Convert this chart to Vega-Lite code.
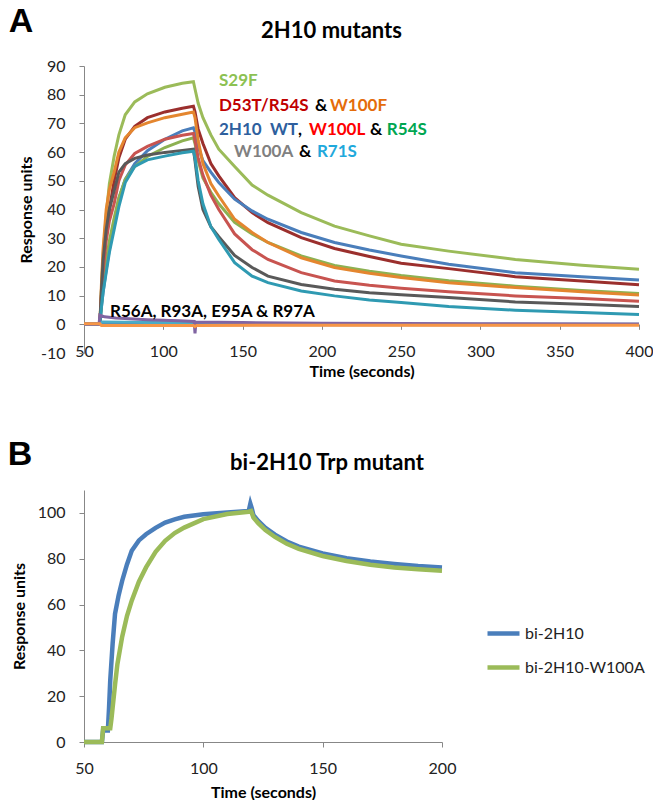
{
  "$schema": "https://vega.github.io/schema/vega-lite/v6.json",
  "background": "white",
  "padding": {"left": 7, "top": 5, "right": 0, "bottom": 0},
  "bounds": "flush",
  "spacing": 137,
  "config": {
    "font": "Lato",
    "view": {"stroke": null},
    "axis": {"domainColor": "#878787", "tickColor": "#878787", "labelColor": "#222222", "titleColor": "#000000", "labelFont": "Lato", "labelFontSize": 16, "titleFont": "Lato", "titleFontSize": 16, "titleFontWeight": "bold", "grid": false, "tickSize": 5, "labelOverlap": false, "labelFlush": false, "labelExpr": "'' + datum.value"},
    "title": {"font": "Lato", "fontSize": 22, "fontWeight": "bold", "color": "#000000"}
  },
  "datasets": {
    "top": [
      {"s":"S29F","t":50,"v":0},{"s":"S29F","t":60,"v":0},{"s":"S29F","t":61,"v":12},{"s":"S29F","t":62,"v":24},{"s":"S29F","t":64,"v":38},{"s":"S29F","t":66,"v":49},{"s":"S29F","t":69,"v":58.5},{"s":"S29F","t":72,"v":66},{"s":"S29F","t":76,"v":73},{"s":"S29F","t":82,"v":77.5},{"s":"S29F","t":90,"v":80.3},{"s":"S29F","t":101,"v":82.6},{"s":"S29F","t":112,"v":84},{"s":"S29F","t":119,"v":84.5},
      {"s":"S29F","t":120,"v":82},{"s":"S29F","t":122,"v":77},{"s":"S29F","t":125,"v":72},{"s":"S29F","t":130,"v":66},{"s":"S29F","t":135,"v":61},{"s":"S29F","t":145,"v":55},{"s":"S29F","t":156,"v":48.5},{"s":"S29F","t":166,"v":45},{"s":"S29F","t":187,"v":38.9},{"s":"S29F","t":208,"v":34.2},{"s":"S29F","t":230,"v":30.8},{"s":"S29F","t":250,"v":27.9},{"s":"S29F","t":280,"v":25.5},{"s":"S29F","t":322,"v":22.6},{"s":"S29F","t":364,"v":20.6},{"s":"S29F","t":400,"v":19.2},

      {"s":"D53T/R54S","t":50,"v":0},{"s":"D53T/R54S","t":60,"v":0},{"s":"D53T/R54S","t":61,"v":10},{"s":"D53T/R54S","t":62,"v":20},{"s":"D53T/R54S","t":64,"v":32},{"s":"D53T/R54S","t":66,"v":40},{"s":"D53T/R54S","t":69,"v":50},{"s":"D53T/R54S","t":72,"v":58},{"s":"D53T/R54S","t":76,"v":64.5},{"s":"D53T/R54S","t":82,"v":69},{"s":"D53T/R54S","t":90,"v":72},{"s":"D53T/R54S","t":101,"v":74},{"s":"D53T/R54S","t":112,"v":75.3},{"s":"D53T/R54S","t":119,"v":76},
      {"s":"D53T/R54S","t":120,"v":74},{"s":"D53T/R54S","t":122,"v":68},{"s":"D53T/R54S","t":125,"v":63},{"s":"D53T/R54S","t":130,"v":56},{"s":"D53T/R54S","t":135,"v":51.7},{"s":"D53T/R54S","t":145,"v":44.1},{"s":"D53T/R54S","t":156,"v":38.9},{"s":"D53T/R54S","t":166,"v":35.4},{"s":"D53T/R54S","t":187,"v":30.2},{"s":"D53T/R54S","t":208,"v":26.4},{"s":"D53T/R54S","t":230,"v":23.6},{"s":"D53T/R54S","t":250,"v":21.3},{"s":"D53T/R54S","t":280,"v":19.4},{"s":"D53T/R54S","t":322,"v":16.6},{"s":"D53T/R54S","t":364,"v":15.1},{"s":"D53T/R54S","t":400,"v":13.8},

      {"s":"2H10 WT","t":50,"v":0},{"s":"2H10 WT","t":60,"v":0},{"s":"2H10 WT","t":61,"v":6},{"s":"2H10 WT","t":62,"v":11},{"s":"2H10 WT","t":64,"v":19},{"s":"2H10 WT","t":66,"v":26},{"s":"2H10 WT","t":69,"v":35},{"s":"2H10 WT","t":72,"v":44},{"s":"2H10 WT","t":76,"v":50.5},{"s":"2H10 WT","t":82,"v":56},{"s":"2H10 WT","t":90,"v":60.5},{"s":"2H10 WT","t":101,"v":64.5},{"s":"2H10 WT","t":112,"v":67.4},{"s":"2H10 WT","t":119,"v":68.5},
      {"s":"2H10 WT","t":120,"v":67},{"s":"2H10 WT","t":122,"v":62},{"s":"2H10 WT","t":125,"v":57},{"s":"2H10 WT","t":130,"v":53},{"s":"2H10 WT","t":135,"v":49.4},{"s":"2H10 WT","t":145,"v":43.6},{"s":"2H10 WT","t":156,"v":39.5},{"s":"2H10 WT","t":166,"v":36.6},{"s":"2H10 WT","t":187,"v":32},{"s":"2H10 WT","t":208,"v":28.5},{"s":"2H10 WT","t":230,"v":25.9},{"s":"2H10 WT","t":250,"v":23.8},{"s":"2H10 WT","t":280,"v":20.9},{"s":"2H10 WT","t":322,"v":18},{"s":"2H10 WT","t":364,"v":16.6},{"s":"2H10 WT","t":400,"v":15.4},

      {"s":"R54S","t":50,"v":0},{"s":"R54S","t":60,"v":0},{"s":"R54S","t":61,"v":7},{"s":"R54S","t":62,"v":13},{"s":"R54S","t":64,"v":22},{"s":"R54S","t":66,"v":29},{"s":"R54S","t":69,"v":37},{"s":"R54S","t":72,"v":44},{"s":"R54S","t":76,"v":50.5},{"s":"R54S","t":82,"v":55},{"s":"R54S","t":90,"v":58.5},{"s":"R54S","t":101,"v":61.6},{"s":"R54S","t":112,"v":63.9},{"s":"R54S","t":119,"v":65},
      {"s":"R54S","t":120,"v":63},{"s":"R54S","t":122,"v":57},{"s":"R54S","t":125,"v":51},{"s":"R54S","t":130,"v":46},{"s":"R54S","t":135,"v":42},{"s":"R54S","t":145,"v":35.5},{"s":"R54S","t":156,"v":31.5},{"s":"R54S","t":166,"v":28.5},{"s":"R54S","t":187,"v":23.8},{"s":"R54S","t":208,"v":20.5},{"s":"R54S","t":230,"v":18.5},{"s":"R54S","t":250,"v":17},{"s":"R54S","t":280,"v":15.2},{"s":"R54S","t":322,"v":13.3},{"s":"R54S","t":364,"v":11.8},{"s":"R54S","t":400,"v":10.7},

      {"s":"W100F","t":50,"v":0},{"s":"W100F","t":60,"v":0},{"s":"W100F","t":61,"v":14},{"s":"W100F","t":62,"v":26},{"s":"W100F","t":64,"v":40},{"s":"W100F","t":66,"v":47},{"s":"W100F","t":69,"v":53},{"s":"W100F","t":72,"v":60},{"s":"W100F","t":76,"v":65},{"s":"W100F","t":82,"v":68.5},{"s":"W100F","t":90,"v":70.2},{"s":"W100F","t":101,"v":72},{"s":"W100F","t":112,"v":73.2},{"s":"W100F","t":119,"v":74},
      {"s":"W100F","t":120,"v":72},{"s":"W100F","t":122,"v":64},{"s":"W100F","t":125,"v":56},{"s":"W100F","t":130,"v":49},{"s":"W100F","t":135,"v":44.7},{"s":"W100F","t":145,"v":36.6},{"s":"W100F","t":156,"v":32},{"s":"W100F","t":166,"v":28.5},{"s":"W100F","t":187,"v":23.2},{"s":"W100F","t":208,"v":19.8},{"s":"W100F","t":230,"v":17.8},{"s":"W100F","t":250,"v":16.3},{"s":"W100F","t":280,"v":14.5},{"s":"W100F","t":322,"v":12.8},{"s":"W100F","t":364,"v":11.3},{"s":"W100F","t":400,"v":10.2},

      {"s":"W100L","t":50,"v":0},{"s":"W100L","t":60,"v":0},{"s":"W100L","t":61,"v":10},{"s":"W100L","t":62,"v":18},{"s":"W100L","t":64,"v":29},{"s":"W100L","t":66,"v":36},{"s":"W100L","t":69,"v":42},{"s":"W100L","t":72,"v":50},{"s":"W100L","t":76,"v":55.5},{"s":"W100L","t":82,"v":59.5},{"s":"W100L","t":90,"v":62},{"s":"W100L","t":101,"v":64.5},{"s":"W100L","t":112,"v":65.9},{"s":"W100L","t":119,"v":66.5},
      {"s":"W100L","t":120,"v":64},{"s":"W100L","t":122,"v":58},{"s":"W100L","t":125,"v":52},{"s":"W100L","t":130,"v":45},{"s":"W100L","t":135,"v":40},{"s":"W100L","t":145,"v":31.5},{"s":"W100L","t":156,"v":26},{"s":"W100L","t":166,"v":22.6},{"s":"W100L","t":187,"v":18},{"s":"W100L","t":208,"v":15.1},{"s":"W100L","t":230,"v":13.6},{"s":"W100L","t":250,"v":12.6},{"s":"W100L","t":280,"v":11.3},{"s":"W100L","t":322,"v":9.9},{"s":"W100L","t":364,"v":9},{"s":"W100L","t":400,"v":8},

      {"s":"W100A","t":50,"v":0},{"s":"W100A","t":60,"v":0},{"s":"W100A","t":61,"v":12},{"s":"W100A","t":62,"v":22},{"s":"W100A","t":64,"v":33},{"s":"W100A","t":66,"v":40},{"s":"W100A","t":69,"v":46.5},{"s":"W100A","t":72,"v":53},{"s":"W100A","t":76,"v":56},{"s":"W100A","t":82,"v":57.8},{"s":"W100A","t":90,"v":59},{"s":"W100A","t":101,"v":59.9},{"s":"W100A","t":112,"v":60.6},{"s":"W100A","t":119,"v":61},
      {"s":"W100A","t":120,"v":57},{"s":"W100A","t":122,"v":48},{"s":"W100A","t":125,"v":40},{"s":"W100A","t":130,"v":34},{"s":"W100A","t":135,"v":30.5},{"s":"W100A","t":145,"v":24},{"s":"W100A","t":156,"v":19.8},{"s":"W100A","t":166,"v":16.8},{"s":"W100A","t":187,"v":13.9},{"s":"W100A","t":208,"v":12.2},{"s":"W100A","t":230,"v":11},{"s":"W100A","t":250,"v":10.3},{"s":"W100A","t":280,"v":9.3},{"s":"W100A","t":322,"v":7.8},{"s":"W100A","t":364,"v":7},{"s":"W100A","t":400,"v":6.2},

      {"s":"R71S","t":50,"v":0},{"s":"R71S","t":60,"v":0},{"s":"R71S","t":61,"v":6},{"s":"R71S","t":62,"v":11},{"s":"R71S","t":64,"v":18},{"s":"R71S","t":66,"v":25},{"s":"R71S","t":69,"v":33},{"s":"R71S","t":72,"v":41},{"s":"R71S","t":76,"v":49.4},{"s":"R71S","t":82,"v":55},{"s":"R71S","t":90,"v":57.3},{"s":"R71S","t":101,"v":58.6},{"s":"R71S","t":112,"v":59.8},{"s":"R71S","t":119,"v":60.3},
      {"s":"R71S","t":120,"v":58},{"s":"R71S","t":122,"v":50},{"s":"R71S","t":125,"v":42},{"s":"R71S","t":130,"v":34},{"s":"R71S","t":135,"v":29.6},{"s":"R71S","t":145,"v":21.5},{"s":"R71S","t":156,"v":16.8},{"s":"R71S","t":166,"v":14.5},{"s":"R71S","t":187,"v":11.6},{"s":"R71S","t":208,"v":9.9},{"s":"R71S","t":230,"v":8.5},{"s":"R71S","t":250,"v":7.6},{"s":"R71S","t":280,"v":6.2},{"s":"R71S","t":322,"v":4.9},{"s":"R71S","t":364,"v":4.1},{"s":"R71S","t":400,"v":3.4},

      {"s":"R97A","t":50,"v":0},{"s":"R97A","t":60,"v":0},{"s":"R97A","t":61,"v":0.3},{"s":"R97A","t":119,"v":0.2},{"s":"R97A","t":121,"v":-0.2},{"s":"R97A","t":400,"v":-0.1},
      {"s":"R93A","t":50,"v":0},{"s":"R93A","t":60,"v":0},{"s":"R93A","t":61,"v":0.8},{"s":"R93A","t":90,"v":0.6},{"s":"R93A","t":119,"v":0.5},{"s":"R93A","t":121,"v":0.1},{"s":"R93A","t":200,"v":0},{"s":"R93A","t":400,"v":0},
      {"s":"R56A","t":50,"v":0},{"s":"R56A","t":59.5,"v":0},{"s":"R56A","t":60,"v":3.2},{"s":"R56A","t":63,"v":2.6},{"s":"R56A","t":70,"v":2.2},{"s":"R56A","t":90,"v":1.6},{"s":"R56A","t":110,"v":1.2},{"s":"R56A","t":119.5,"v":1},{"s":"R56A","t":120,"v":-3.2},{"s":"R56A","t":120.6,"v":0.8},{"s":"R56A","t":150,"v":0.6},{"s":"R56A","t":200,"v":0.4},{"s":"R56A","t":300,"v":0.2},{"s":"R56A","t":400,"v":0.1},
      {"s":"E95A","t":50,"v":0.2},{"s":"E95A","t":60,"v":0.2},{"s":"E95A","t":61,"v":-0.4},{"s":"E95A","t":119,"v":-0.4},{"s":"E95A","t":120,"v":-0.8},{"s":"E95A","t":121,"v":-0.4},{"s":"E95A","t":250,"v":-0.3},{"s":"E95A","t":400,"v":-0.3}
    ],
    "ann": [
      {"label":"S29F","key":"S29F","t":135.1,"v":84.7},
      {"label":"D53T/R54S","key":"D53T/R54S","t":135.1,"v":76},
      {"label":"&","key":"sep","t":195.6,"v":76},
      {"label":"W100F","key":"W100F","t":205.1,"v":76},
      {"label":"2H10","key":"2H10","t":135.1,"v":67.6},
      {"label":"WT","key":"WT","t":167.3,"v":67.6},
      {"label":",","key":"sep","t":184.9,"v":67.6},
      {"label":"W100L","key":"W100L","t":191.9,"v":67.6},
      {"label":"&","key":"sep","t":230.3,"v":67.6},
      {"label":"R54S","key":"R54S","t":241,"v":67.6},
      {"label":"W100A","key":"W100A","t":144.6,"v":59.9},
      {"label":"&","key":"sep","t":185.6,"v":59.9},
      {"label":"R71S","key":"R71S","t":196.9,"v":59.9},
      {"label":"R56A, R93A, E95A & R97A","key":"sep","t":66.4,"v":4.2}
    ],
    "bot": [
      {"s":"bi-2H10","t":50,"v":0},{"s":"bi-2H10","t":57.5,"v":0},{"s":"bi-2H10","t":58,"v":5},{"s":"bi-2H10","t":60,"v":5},{"s":"bi-2H10","t":60.5,"v":15},{"s":"bi-2H10","t":61,"v":27},{"s":"bi-2H10","t":62,"v":43},{"s":"bi-2H10","t":63,"v":56},{"s":"bi-2H10","t":64.5,"v":64},{"s":"bi-2H10","t":66,"v":70.4},{"s":"bi-2H10","t":68,"v":77.5},{"s":"bi-2H10","t":70,"v":83.5},{"s":"bi-2H10","t":73,"v":88},{"s":"bi-2H10","t":76,"v":90.7},{"s":"bi-2H10","t":80,"v":93.5},{"s":"bi-2H10","t":84,"v":95.8},{"s":"bi-2H10","t":88,"v":97.2},{"s":"bi-2H10","t":92,"v":98.3},{"s":"bi-2H10","t":100,"v":99.4},{"s":"bi-2H10","t":110,"v":100.2},{"s":"bi-2H10","t":119,"v":100.8},{"s":"bi-2H10","t":119.7,"v":104},{"s":"bi-2H10","t":120.3,"v":102},{"s":"bi-2H10","t":121,"v":99},{"s":"bi-2H10","t":123,"v":96.5},{"s":"bi-2H10","t":126,"v":93.5},{"s":"bi-2H10","t":130,"v":90.5},{"s":"bi-2H10","t":135,"v":87.5},{"s":"bi-2H10","t":140,"v":85.3},{"s":"bi-2H10","t":150,"v":82.3},{"s":"bi-2H10","t":160,"v":80.2},{"s":"bi-2H10","t":170,"v":78.8},{"s":"bi-2H10","t":180,"v":77.7},{"s":"bi-2H10","t":190,"v":76.8},{"s":"bi-2H10","t":200,"v":76.2},
      {"s":"bi-2H10-W100A","t":50,"v":0},{"s":"bi-2H10-W100A","t":57.5,"v":0},{"s":"bi-2H10-W100A","t":58,"v":6},{"s":"bi-2H10-W100A","t":61,"v":6},{"s":"bi-2H10-W100A","t":61.5,"v":10},{"s":"bi-2H10-W100A","t":62,"v":15},{"s":"bi-2H10-W100A","t":63,"v":25},{"s":"bi-2H10-W100A","t":64,"v":34},{"s":"bi-2H10-W100A","t":66,"v":46},{"s":"bi-2H10-W100A","t":68,"v":55},{"s":"bi-2H10-W100A","t":70,"v":61.7},{"s":"bi-2H10-W100A","t":73,"v":70},{"s":"bi-2H10-W100A","t":76,"v":76.2},{"s":"bi-2H10-W100A","t":80,"v":83},{"s":"bi-2H10-W100A","t":84,"v":87.8},{"s":"bi-2H10-W100A","t":88,"v":91.2},{"s":"bi-2H10-W100A","t":92,"v":93.6},{"s":"bi-2H10-W100A","t":100,"v":97.3},{"s":"bi-2H10-W100A","t":110,"v":99.5},{"s":"bi-2H10-W100A","t":119,"v":100.5},{"s":"bi-2H10-W100A","t":120,"v":100.8},{"s":"bi-2H10-W100A","t":121,"v":98},{"s":"bi-2H10-W100A","t":123,"v":95.5},{"s":"bi-2H10-W100A","t":126,"v":92.5},{"s":"bi-2H10-W100A","t":130,"v":89.5},{"s":"bi-2H10-W100A","t":135,"v":86.5},{"s":"bi-2H10-W100A","t":140,"v":84.3},{"s":"bi-2H10-W100A","t":150,"v":81.2},{"s":"bi-2H10-W100A","t":160,"v":79},{"s":"bi-2H10-W100A","t":170,"v":77.4},{"s":"bi-2H10-W100A","t":180,"v":76.2},{"s":"bi-2H10-W100A","t":190,"v":75.4},{"s":"bi-2H10-W100A","t":200,"v":74.8}
    ]
  },
  "vconcat": [
    {
      "width": 555,
      "height": 287,
      "title": {"text": "2H10 mutants", "anchor": "middle", "dx": -30, "dy": 64, "offset": 26},
      "layer": [
        {
          "data": {"name": "top"},
          "mark": {"type": "line", "strokeWidth": 3},
          "encoding": {
            "x": {"field": "t", "type": "quantitative", "scale": {"domain": [50, 400], "nice": false},
                  "axis": {"values": [50, 100, 150, 200, 250, 300, 350, 400], "tickCount": 20, "title": "Time (seconds)", "offset": -28.7, "labelPadding": 14, "titlePadding": 4, "labelOverlap": false, "labelFlush": false}},
            "y": {"field": "v", "type": "quantitative", "scale": {"domain": [-10, 90], "nice": false},
                  "axis": {"values": [-10, 0, 10, 20, 30, 40, 50, 60, 70, 80, 90], "tickCount": 20, "title": "Response units", "labelPadding": 14, "titlePadding": 6, "labelOverlap": false, "labelFlush": false}},
            "color": {"field": "s", "type": "nominal",
                      "scale": {"domain": ["S29F", "D53T/R54S", "2H10 WT", "R54S", "W100F", "W100L", "W100A", "R71S", "R97A", "R93A", "R56A", "E95A"],
                                "range": ["#9BBB59", "#9B2F2D", "#4A7EBB", "#8DB152", "#E4862F", "#C85450", "#595959", "#2F9AB2", "#6B5590", "#4BACC6", "#8064A2", "#F79646"]},
                      "legend": null}
          }
        },
        {
          "data": {"name": "ann"},
          "mark": {"type": "text", "align": "left", "baseline": "middle", "fontSize": 17, "fontWeight": "bold", "font": "Lato"},
          "encoding": {
            "x": {"field": "t", "type": "quantitative"},
            "y": {"field": "v", "type": "quantitative"},
            "text": {"field": "label"},
            "color": {"field": "key", "type": "nominal",
                      "scale": {"domain": ["S29F", "D53T/R54S", "W100F", "2H10", "WT", "W100L", "R54S", "W100A", "R71S", "sep"],
                                "range": ["#8CC152", "#C00000", "#E46C0A", "#2E5F9E", "#2E5F9E", "#FF0000", "#00A651", "#808080", "#1FA9DC", "#000000"]},
                      "legend": null}
          }
        },
        {
          "data": {"values": [{"letter": "A"}]},
          "mark": {"type": "text", "align": "center", "baseline": "middle", "fontSize": 34, "fontWeight": "bold", "font": "Liberation Sans", "color": "#000000"},
          "encoding": {"x": {"datum": 10.3}, "y": {"datum": 105.2}, "text": {"field": "letter"}}
        }
      ],
      "resolve": {"scale": {"color": "independent"}}
    },
    {
      "width": 358,
      "height": 252,
      "title": {"text": "bi-2H10 Trp mutant", "anchor": "middle", "dx": 64, "dy": 55, "offset": 18},
      "layer": [
        {
          "data": {"name": "bot"},
          "mark": {"type": "line", "strokeWidth": 4.5},
          "encoding": {
            "x": {"field": "t", "type": "quantitative", "scale": {"domain": [50, 200], "nice": false},
                  "axis": {"values": [50, 100, 150, 200], "tickCount": 10, "title": "Time (seconds)", "labelPadding": 13, "titlePadding": 8, "labelFlush": false}},
            "y": {"field": "v", "type": "quantitative", "scale": {"domain": [0, 110], "nice": false},
                  "axis": {"values": [0, 20, 40, 60, 80, 100], "tickCount": 10, "title": "Response units", "labelPadding": 14, "titlePadding": 10, "labelFlush": false}},
            "color": {"field": "s", "type": "nominal",
                      "scale": {"domain": ["bi-2H10", "bi-2H10-W100A"], "range": ["#4A7EBB", "#9BBB59"]},
                      "legend": {"title": null, "orient": "none", "legendX": 401, "legendY": 549, "symbolType": "stroke", "symbolSize": 1024, "symbolStrokeWidth": 4.5, "labelFont": "Lato", "labelFontSize": 16, "labelColor": "#222222", "labelOffset": 3, "rowPadding": 6, "padding": 0}}
          }
        },
        {
          "data": {"values": [{"letter": "B"}]},
          "mark": {"type": "text", "align": "center", "baseline": "middle", "fontSize": 34, "fontWeight": "bold", "font": "Liberation Sans", "color": "#000000"},
          "encoding": {"x": {"datum": 23.2}, "y": {"datum": 125.2}, "text": {"field": "letter"}}
        }
      ]
    }
  ]
}
